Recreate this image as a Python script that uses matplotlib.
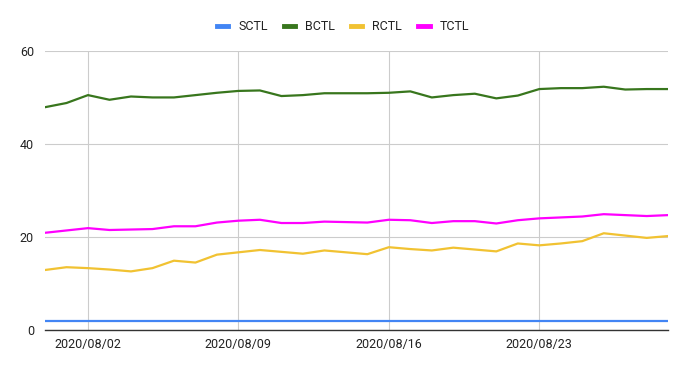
import matplotlib
matplotlib.use("Agg")
import matplotlib.pyplot as plt
import matplotlib.dates as mdates
import numpy as np
import pandas as pd

dates = pd.date_range("2020-07-31", "2020-08-29", freq="D")
sctl = [2.0] * 30
bctl = [47.9, 48.8, 50.5, 49.5, 50.2, 50.0, 50.0, 50.5, 51.0, 51.4,
        51.5, 50.3, 50.5, 50.9, 50.9, 50.9, 51.0, 51.3, 50.0, 50.5,
        50.8, 49.8, 50.4, 51.8, 52.0, 52.0, 52.3, 51.7, 51.8, 51.8]
rctl = [12.9, 13.5, 13.3, 13.0, 12.6, 13.3, 14.9, 14.5, 16.2, 16.7,
        17.2, 16.8, 16.4, 17.1, 16.7, 16.3, 17.8, 17.4, 17.1, 17.7,
        17.3, 16.9, 18.6, 18.2, 18.6, 19.1, 20.8, 20.3, 19.8, 20.2]
tctl = [20.9, 21.4, 21.9, 21.5, 21.6, 21.7, 22.3, 22.3, 23.1, 23.5,
        23.7, 23.0, 23.0, 23.3, 23.2, 23.1, 23.7, 23.6, 23.0, 23.4,
        23.4, 22.9, 23.6, 24.0, 24.2, 24.4, 24.9, 24.7, 24.5, 24.7]
series_names = ["SCTL", "BCTL", "RCTL", "TCTL"]
colors = ["#4285F4", "#38761D", "#F1C232", "#FF00FF"]
xticks = ["2020-08-02", "2020-08-09", "2020-08-16", "2020-08-23"]
yticks = [0, 20, 40, 60]

plt.rcParams['font.family'] = ['Roboto', 'DejaVu Sans']

fig = plt.figure(figsize=(6.86, 3.69), dpi=100)
ax = fig.add_axes([0.0656, 0.1057, 0.9085, 0.7563])

for name, vals, c in zip(series_names, [sctl, bctl, rctl, tctl], colors):
    ax.plot(dates, vals, color=c, lw=1.6, label=name, solid_joinstyle='round')

ax.set_xlim(dates[0], dates[-1])
ax.set_ylim(0, 60)
ax.set_yticks(yticks)
ax.set_xticks(pd.to_datetime(xticks))
ax.xaxis.set_major_formatter(mdates.DateFormatter("%Y/%m/%d"))
ax.grid(True, color="#cccccc", lw=0.8)
ax.set_axisbelow(True)
for s in ["top", "right", "left"]:
    ax.spines[s].set_visible(False)
ax.spines["bottom"].set_color("#333333")
ax.spines["bottom"].set_linewidth(1.0)
ax.tick_params(axis="both", length=0, labelsize=9, colors="#222222")
ax.tick_params(axis="y", pad=8)
ax.tick_params(axis="x", pad=6)

leg = fig.legend(loc="upper center", ncol=4, frameon=False, fontsize=9,
                 bbox_to_anchor=(0.5, 0.975), handlelength=0.9, handletextpad=0.8,
                 columnspacing=1.3)
for line in leg.get_lines():
    line.set_linewidth(3.5)
for t in leg.get_texts():
    t.set_color("#222222")

fig.savefig("out.png", dpi=100)
